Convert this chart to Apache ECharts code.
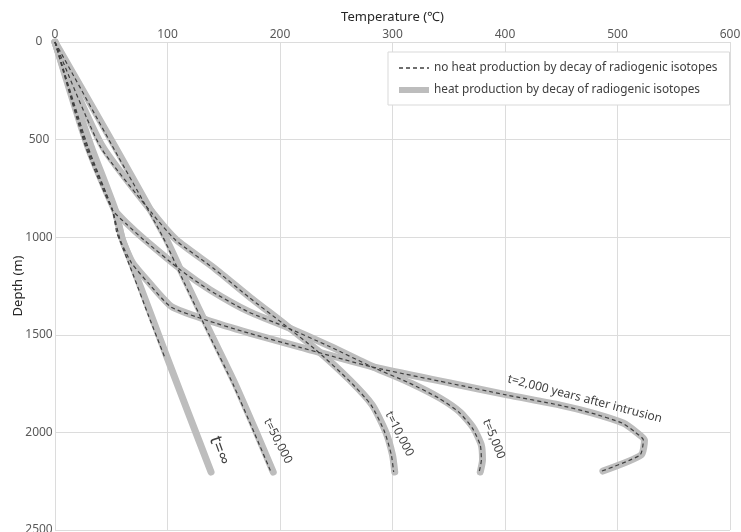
<!DOCTYPE html>
<html><head><meta charset="utf-8">
<script src="https://cdn.jsdelivr.net/npm/echarts@6/dist/echarts.min.js"></script>
<style>html,body{margin:0;padding:0;background:#fff}#c{width:741px;height:532px}</style>
</head><body><div id="c"></div>
<script>
// ---- data (Temperature °C vs Depth m) ----
const xTicks = [0, 100, 200, 300, 400, 500, 600];
const yTicks = [0, 500, 1000, 1500, 2000, 2500];
const nameNoHeat = 'no heat production by decay of radiogenic isotopes';
const nameHeat = 'heat production by decay of radiogenic isotopes';

// t = infinity
const dInf = [0, 533, 860, 1014, 1132, 1400, 1629, 1900, 2203];
const tInf = [0, 32, 53.5, 60, 68, 85.5, 100.5, 118.5, 138.7];
const dInfNo = [0, 533, 860, 980, 1014, 1200, 1400, 1619];
const tInfNo = [0, 29, 51, 55, 57.5, 70, 83, 97.8];

// t = 2,000 years
const d2000 = [0, 533, 860, 1014, 1132, 1235, 1357, 1424, 1491, 1563, 1665, 1747, 1808, 1860, 1901, 1952, 2000, 2039, 2116, 2198];
const t2000 = [0, 30, 53, 60, 69, 84, 104, 135, 173, 218, 283, 351, 402, 449, 478, 505, 517, 524, 521, 487];
const t2000No = [0, 28, 51, 58, 68, 83, 103, 134, 172, 217, 282, 350, 401, 448, 477, 504, 516, 523, 520, 486];

// t = 5,000 years
const d5000 = [0, 533, 860, 930, 1014, 1170, 1270, 1383, 1455, 1560, 1665, 1747, 1824, 1896, 1978, 2065, 2142, 2203];
const t5000 = [0, 29, 53, 64, 80, 113, 138, 173, 204, 245, 283, 316, 342, 360, 372, 379, 380, 378];
const t5000No = [0, 27, 51, 63, 79, 112, 137, 172, 203, 244, 282, 315, 341, 359, 371, 378, 379, 377];

// t = 10,000 years
const d10000 = [0, 533, 876, 1014, 1160, 1306, 1440, 1578, 1732, 1860, 1998, 2116, 2203];
const t10000 = [0, 42, 87, 108, 142, 173, 203, 233, 262, 282, 294, 300, 302];
const t10000No = [0, 40, 86, 107, 141, 172, 202, 232, 261, 281, 293, 299, 301];

// t = 50,000 years
const d50000 = [0, 533, 1000, 1235, 1500, 1750, 2000, 2203];
const t50000 = [0, 53, 98, 117, 139, 160, 179, 194];
const t50000No = [0, 51, 96, 115, 137, 158, 177, 192];

// curve annotations
const annT = [146, 198, 306, 390, 471];
const annD = [2093, 2044, 2008, 2034, 1829];
const annText = ['t=∞', 't=50,000', 't=10,000', 't=5,000', 't=2,000 years after intrusion'];
const annAngle = [70, 63, 63, 68, 14.6];
const annSize = [18, 12, 12, 12, 12];

// ---- build ----
const FONT = "'Noto Sans', 'Open Sans', sans-serif";
function pairs(t, d) { return t.map((v, i) => [v, d[i]]); }

const grayStyle = { color: '#bdbdbd', width: 7, cap: 'round', join: 'round' };
const dashStyle = { color: '#3f3f3f', width: 1.2, type: [4, 3] };

function gray(t, d) {
  return { type: 'line', name: nameHeat, data: pairs(t, d), showSymbol: false, symbol: 'none', smooth: 0.2,
    lineStyle: grayStyle, itemStyle: { color: '#bdbdbd' }, z: 2, silent: true, animation: false };
}
function dash(t, d) {
  return { type: 'line', name: nameNoHeat, data: pairs(t, d), showSymbol: false, symbol: 'none', smooth: 0.2,
    lineStyle: dashStyle, itemStyle: { color: '#3f3f3f' }, z: 3, silent: true, animation: false };
}

const series = [
  gray(tInf, dInf), gray(t2000, d2000), gray(t5000, d5000), gray(t10000, d10000), gray(t50000, d50000),
  dash(tInfNo, dInfNo), dash(t2000No, d2000), dash(t5000No, d5000), dash(t10000No, d10000), dash(t50000No, d50000),
  {
    type: 'custom', coordinateSystem: 'cartesian2d', silent: true, z: 10, animation: false,
    data: annT.map((v, i) => [v, annD[i]]),
    renderItem: function (params, api) {
      const i = params.dataIndex;
      const p = api.coord([api.value(0), api.value(1)]);
      return {
        type: 'text', x: p[0], y: p[1], rotation: -annAngle[i] * Math.PI / 180,
        style: { text: annText[i], fill: '#404040', fontSize: annSize[i], fontFamily: FONT,
          align: 'center', verticalAlign: 'middle', textAlign: 'center', textVerticalAlign: 'middle' }
      };
    }
  }
];

const chart = echarts.init(document.getElementById('c'), null, { renderer: 'canvas' });
chart.setOption({
  animation: false,
  backgroundColor: '#ffffff',
  textStyle: { fontFamily: FONT },
  grid: { left: 55, right: 11, top: 42, bottom: 2, containLabel: false, outerBoundsMode: 'none' },
  legend: {
    orient: 'vertical', left: 388, top: 52,
    data: [
      { name: nameNoHeat, itemStyle: { opacity: 0 }, lineStyle: { width: 1.3, type: [4, 3], color: '#3f3f3f' } },
      { name: nameHeat, itemStyle: { opacity: 0 }, lineStyle: { width: 6, cap: 'butt', color: '#bdbdbd' } }
    ],
    backgroundColor: '#ffffff', borderColor: '#d9d9d9', borderWidth: 1,
    padding: [10, 12, 9, 8], itemGap: 10, itemWidth: 30, itemHeight: 14,
    textStyle: { fontSize: 11.8, color: '#404040', fontFamily: FONT },
    selectedMode: false
  },
  xAxis: {
    type: 'value', position: 'top', min: 0, max: 600, interval: 100,
    name: 'Temperature (℃)', nameLocation: 'middle', nameGap: 18, nameMoveOverlap: false,
    nameTextStyle: { fontSize: 13, color: '#262626', fontFamily: FONT },
    axisLine: { show: false }, axisTick: { show: false },
    axisLabel: { fontSize: 12, color: '#595959', margin: 1, fontFamily: FONT,
      formatter: v => xTicks.includes(v) ? String(v) : '' },
    splitLine: { show: true, lineStyle: { color: '#dcdcdc', width: 1 } }
  },
  yAxis: {
    type: 'value', inverse: true, min: 0, max: 2500, interval: 500,
    name: 'Depth (m)', nameLocation: 'middle', nameGap: 30, nameRotate: 90, nameMoveOverlap: false,
    nameTextStyle: { fontSize: 13, color: '#262626', fontFamily: FONT },
    axisLine: { show: false }, axisTick: { show: false },
    axisLabel: { fontSize: 12, color: '#595959', margin: 16, align: 'center', fontFamily: FONT,
      formatter: v => yTicks.includes(v) ? String(v) : '' },
    splitLine: { show: true, lineStyle: { color: '#dcdcdc', width: 1 } }
  },
  series: series
});
</script>
</body></html>
